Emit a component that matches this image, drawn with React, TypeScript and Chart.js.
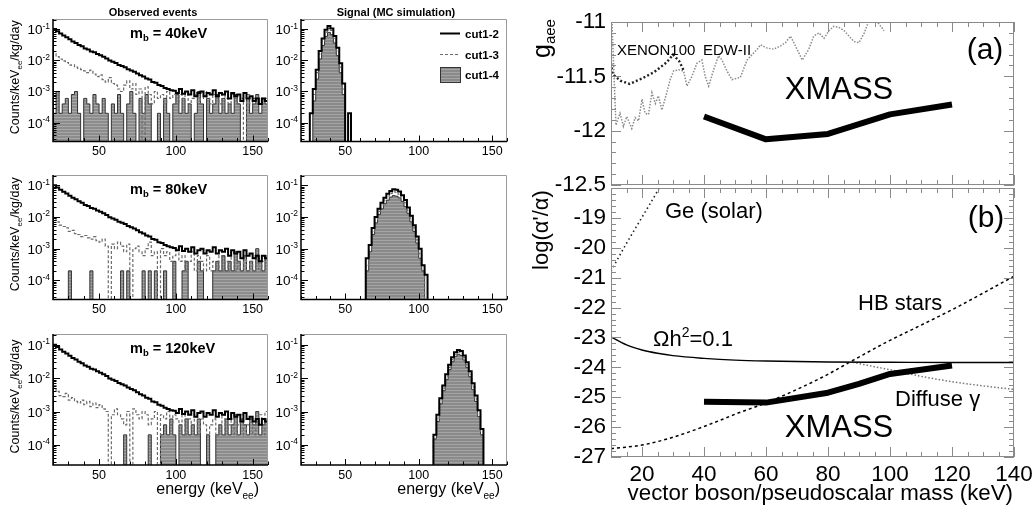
import React, { useEffect, useRef } from "react";
import { Chart, registerables } from "chart.js";

Chart.register(...registerables);

const FONT = "'Liberation Sans', Arial, Helvetica, sans-serif";

// ================= LEFT: histograms (2 keV bins from 20 keV) =================
const BIN_W = 2;
const OBS_START = 20;
const ENERGY_MIN = 20;
const ENERGY_MAX = 160;
const RATE_MIN = 2.5e-5;
const RATE_MAX = 0.21;
const decadeExps = [-1, -2, -3, -4];
const massLabels = ["40", "80", "120"];
const legendNames = ["cut1-2", "cut1-3", "cut1-4"];

// observed cut1-2 (same data for all masses)
const obsCut12 = [
  0.1, 0.085, 0.072, 0.062, 0.055, 0.047, 0.04, 0.036, 0.031, 0.028,
  0.024, 0.022, 0.019, 0.018, 0.016, 0.0145, 0.013, 0.0115, 0.0098, 0.009,
  0.0082, 0.0071, 0.0066, 0.006, 0.0052, 0.0047, 0.0043, 0.0038, 0.0033, 0.003,
  0.0026, 0.0024, 0.002, 0.0019, 0.0016, 0.0015, 0.0013, 0.0012, 0.0011, 0.00105,
  0.0009, 0.0012, 0.00085, 0.001, 0.0008, 0.0011, 0.0007, 0.0009, 0.001, 0.0007,
  0.0009, 0.0008, 0.0011, 0.0007, 0.0009, 0.0008, 0.001, 0.0006, 0.0009, 0.0007,
  0.0008, 0.0005, 0.0009, 0.0006, 0.0007, 0.0005, 0.0006, 0.0004, 0.0006, 0.0005,
];
const obs40Cut13 = [
  0.016, 0.013, 0.011, 0.0095, 0.0085, 0.007, 0.0072, 0.006, 0.0055, 0.005,
  0.0046, 0.004, 0.0048, 0.0036, 0.003, 0.0034, 0.0024, 0.002, 0.0028, 0.0018,
  0.0016, 0.0012, 0.001, 0.0016, 0.0022, 0.0012, 0.0018, 0.0008, 0.0012, 0,
  0.0014, 0.0008, 0.0004, 0.001, 0.0006, 0.0008, 0.0004, 0.001, 0.0006, 0.0008,
  0.0004, 0.0008, 0.0006, 0.001, 0.0004, 0.0006, 0.0008, 0.0004, 0.0006, 0.001,
  0.0006, 0.0004, 0.0008, 0.0006, 0.0004, 0.0008, 0.0006, 0.0004, 0.0008, 0.0006,
  0.0004, 0.0006, 0, 0.0008, 0.0004, 0.0006, 0.0004, 0.0006, 0.0004, 0.0006,
];
const obs40Cut14 = [
  2e-4, 1e-3, 2e-4, 4e-4, 6e-4, 2e-4, 8e-4, 1e-3, 2e-4, 0,
  6e-4, 4e-4, 2e-4, 8e-4, 4e-4, 2e-4, 6e-4, 2e-4, 0, 4e-4,
  2e-4, 8e-4, 2e-4, 0, 4e-4, 1e-3, 2e-4, 0, 6e-4, 2e-4,
  8e-4, 4e-4, 0, 0, 2e-4, 0, 6e-4, 2e-4, 0, 4e-4,
  8e-4, 2e-4, 6e-4, 2e-4, 4e-4, 0, 2e-4, 1e-3, 4e-4, 0,
  6e-4, 2e-4, 4e-4, 8e-4, 2e-4, 6e-4, 2e-4, 4e-4, 2e-4, 8e-4,
  4e-4, 0, 0, 6e-4, 2e-4, 4e-4, 8e-4, 2e-4, 6e-4, 4e-4,
];
const obs80Cut13 = [
  0.009, 0.007, 0.0055, 0.005, 0.0045, 0.0035, 0.0038, 0.003, 0.0028, 0.0024,
  0.0026, 0.0022, 0.002, 0.0024, 0.0018, 0.0016, 0.002, 0.0012, 0, 0.0014,
  0.001, 0.0016, 0.0012, 0.0008, 0.0014, 0, 0.001, 0.0012, 0.0008, 0.0006,
  0.001, 0.0016, 0.0006, 0.0008, 0, 0.001, 0.0006, 0.0008, 0.0004, 0.0006,
  0.001, 0.0004, 0.0006, 0.0002, 0.0004, 0.0008, 0.0002, 0.0006, 0.0004, 0.0002,
  0.0006, 0.0002, 0.0004, 0.0002, 0.0006, 0.0002, 0.0004, 0.0002, 0.0008, 0.0002,
  0.0004, 0.0002, 0.0006, 0.0002, 0.0004, 0.0002, 0.0006, 0.0002, 0.0004, 0.0006,
];
const obs80Cut14 = [
  0, 0, 0, 0, 0, 2e-4, 0, 0, 0, 0,
  0, 0, 2e-4, 0, 0, 0, 0, 0, 0, 0,
  0, 0, 2e-4, 0, 2e-4, 0, 0, 0, 0, 2e-4,
  0, 2e-4, 0, 2e-4, 0, 0, 2e-4, 0, 0, 4e-4,
  0, 0, 2e-4, 4e-4, 0, 0, 0, 4e-4, 2e-4, 0,
  0, 0, 2e-4, 4e-4, 2e-4, 6e-4, 2e-4, 4e-4, 2e-4, 8e-4,
  4e-4, 2e-4, 6e-4, 2e-4, 4e-4, 2e-4, 1e-3, 4e-4, 2e-4, 6e-4,
];
const obs120Cut13 = [
  0.006, 0.004, 0.003, 0.0028, 0.0035, 0.0022, 0.0026, 0.002, 0.0018, 0.0022,
  0.0016, 0.002, 0.0014, 0.0018, 0.0013, 0.0016, 0.0012, 0.001, 0, 0.0008,
  0.0012, 0.0008, 0.0006, 0.0004, 0.001, 0, 0.0012, 0.0008, 0.0006, 0.001,
  0.0008, 0.0004, 0.0006, 0.001, 0, 0.0008, 0.0006, 0.001, 0.0004, 0.0008,
  0.0006, 0.0004, 0.0008, 0.0002, 0.0006, 0.0004, 0.0008, 0.0002, 0.0006, 0.0004,
  0.0002, 0.0004, 0.0006, 0.0002, 0.0004, 0.0008, 0.0002, 0.0004, 0.0006, 0.0002,
  0.0004, 0.0008, 0.0002, 0.0004, 0.0006, 0.0002, 0.0004, 0.0008, 0.0002, 0.001,
];
const obs120Cut14 = [
  0, 0, 0, 0, 0, 0, 0, 0, 0, 0,
  0, 0, 0, 0, 0, 0, 0, 0, 0, 0,
  0, 0, 0, 2e-4, 0, 0, 0, 0, 0, 0,
  0, 2e-4, 0, 0, 0, 2e-4, 4e-4, 2e-4, 6e-4, 2e-4,
  0, 4e-4, 2e-4, 6e-4, 2e-4, 4e-4, 2e-4, 6e-4, 0, 0,
  2e-4, 0, 0, 2e-4, 4e-4, 2e-4, 6e-4, 2e-4, 4e-4, 8e-4,
  2e-4, 6e-4, 4e-4, 2e-4, 6e-4, 4e-4, 1e-3, 2e-4, 4e-4, 6e-4,
];

// signal (MC) histograms
const sig40Start = 26;
const sig40Cut12 = [2e-4, 1.2e-3, 5e-3, 0.02, 0.05, 0.095, 0.125, 0.105, 0.06, 0.025, 0.008, 1.8e-3, 0, 2e-4];
const sig40Cut13 = [0, 8e-4, 4e-3, 0.016, 0.042, 0.08, 0.105, 0.09, 0.05, 0.02, 0.006, 1.2e-3, 0, 0];
const sig40Cut14 = [0, 5e-4, 2.5e-3, 0.011, 0.03, 0.058, 0.078, 0.066, 0.036, 0.014, 4e-3, 8e-4, 0, 0];
const sig80Start = 62;
const sig80Cut12 = [0, 5e-4, 1.3e-3, 4.5e-3, 0.01, 0.018, 0.028, 0.04, 0.054, 0.066, 0.075, 0.072, 0.063, 0.048, 0.034, 0.02, 0.011, 5.5e-3, 2.4e-3, 1e-3, 3e-4, 1.5e-4];
const sig80Cut13 = [0, 3e-4, 1e-3, 3.5e-3, 8e-3, 0.015, 0.023, 0.034, 0.045, 0.055, 0.062, 0.06, 0.052, 0.04, 0.028, 0.016, 9e-3, 4.5e-3, 1.9e-3, 7e-4, 2e-4, 0];
const sig80Cut14 = [0, 2e-4, 8e-4, 2.8e-3, 6.5e-3, 0.012, 0.018, 0.026, 0.034, 0.042, 0.047, 0.045, 0.04, 0.031, 0.021, 0.013, 7e-3, 3.5e-3, 1.5e-3, 5e-4, 2e-4, 0];
const sig120Start = 108;
const sig120Cut12 = [0, 2e-4, 8e-4, 2.5e-3, 6e-3, 0.013, 0.025, 0.042, 0.06, 0.07, 0.065, 0.048, 0.03, 0.016, 7e-3, 3e-3, 1.1e-3, 3e-4, 0];
const sig120Cut13 = [0, 1.5e-4, 6e-4, 2e-3, 5e-3, 0.011, 0.021, 0.036, 0.052, 0.06, 0.056, 0.041, 0.025, 0.013, 5.5e-3, 2.4e-3, 8e-4, 2e-4, 0];
const sig120Cut14 = [0, 1.5e-4, 5e-4, 1.7e-3, 4.2e-3, 9e-3, 0.018, 0.031, 0.045, 0.052, 0.048, 0.035, 0.021, 0.011, 4.5e-3, 2e-3, 7e-4, 2e-4, 0];

// ================= RIGHT: limits =================
const MASS_MIN = 10;
const MASS_MAX = 140;
const GAEE_MIN = -12.5;
const GAEE_MAX = -11;
const LOGA_MIN = -27;
const LOGA_MAX = -18;

const xmassAX = [40, 60, 80, 100, 120];
const xmassAY = [-11.87, -12.08, -12.03, -11.85, -11.76];
const xenonX = [10, 10.5, 13, 16, 20, 24, 28, 30, 32, 33.5];
const xenonY = [-11.38, -11.48, -11.54, -11.57, -11.52, -11.46, -11.37, -11.3, -11.36, -11.45];
const edwX = [
  10.3, 11.6, 12.9, 14.0, 15.1, 16.7, 17.8, 18.9, 20.0, 21.0, 22.1, 23.2, 24.3, 25.3, 26.4,
  28.0, 29.1, 30.2, 31.8, 33.4, 34.5, 36.1, 37.7, 39.3, 40.4, 41.5, 43.1, 44.7, 45.8, 47.4,
  49.0, 51.7, 53.9, 55.5, 57.2, 58.2, 60.4, 62.5, 64.7, 66.3, 67.9, 69.5, 71.7, 73.8, 75.4,
  77.1, 78.7, 80.3, 81.9, 83.5, 85.2, 86.8, 88.4, 90.0, 91.7, 93.3, 94.9, 96.5, 98.1,
];
const edwY = [
  -10.99, -11.95, -11.84, -11.96, -11.87, -11.98, -11.88, -11.91, -11.71, -11.84, -11.85, -11.65, -11.75, -11.68, -11.81,
  -11.65, -11.53, -11.45, -11.44, -11.45, -11.59, -11.5, -11.38, -11.35, -11.5, -11.59, -11.44, -11.31, -11.35, -11.45,
  -11.53, -11.51, -11.35, -11.3, -11.25, -11.21, -11.24, -11.25, -11.22, -11.19, -11.13, -11.22, -11.35, -11.25, -11.13,
  -11.1, -11.15, -11.08, -11.04, -11.05, -11.08, -11.13, -11.18, -11.19, -11.1, -10.98, -10.96, -11.02, -11.08,
];

const geX = [10, 15, 20, 25, 27];
const geY = [-20.78, -19.85, -18.98, -18.1, -17.7];
const omegaX = [10, 15, 20, 25, 30, 40, 50, 60, 80, 100, 120, 140];
const omegaY = [-22.98, -23.25, -23.42, -23.53, -23.61, -23.7, -23.76, -23.79, -23.82, -23.83, -23.84, -23.84];
const diffuseX = [88, 95, 100, 110, 120, 130, 140];
const diffuseY = [-23.83, -23.98, -24.08, -24.3, -24.48, -24.62, -24.74];
const hbX = [10, 20, 29, 40, 51, 60, 78, 88, 99, 110, 121, 140];
const hbY = [-26.72, -26.6, -26.37, -25.98, -25.53, -25.19, -24.34, -23.77, -23.15, -22.59, -22.02, -20.95];
const xmassBX = [40, 60, 80, 90, 100, 120];
const xmassBY = [-25.15, -25.18, -24.85, -24.55, -24.22, -23.94];

// ================= helpers =================
type Pt = { x: number; y: number };
type Rect = { x: number; y: number; w: number; h: number };
type Area = { l: number; t: number; r: number; b: number };
type Run = { t: string; size: number; dy?: number; bold?: boolean };

const FLOOR = 1e-7;

function zip(xs: number[], ys: number[]): Pt[] {
  return xs.map((x, i) => ({ x, y: ys[i] }));
}

function stepPoints(start: number, vals: number[]): Pt[] {
  const pts: Pt[] = [{ x: start, y: FLOOR }];
  vals.forEach((v, i) => pts.push({ x: start + i * BIN_W, y: v > 0 ? v : FLOOR }));
  const end = start + vals.length * BIN_W;
  const last = vals[vals.length - 1];
  pts.push({ x: end, y: last > 0 ? last : FLOOR });
  pts.push({ x: end, y: FLOOR });
  return pts;
}

function drawRuns(ctx: CanvasRenderingContext2D, runs: Run[], x: number, y: number, align: string, rotate = false) {
  ctx.save();
  ctx.translate(x, y);
  if (rotate) ctx.rotate(-Math.PI / 2);
  ctx.fillStyle = "#000";
  ctx.textBaseline = "alphabetic";
  ctx.textAlign = "left";
  const fonts = runs.map((r) => `${r.bold ? "bold " : ""}${r.size}px ${FONT}`);
  let total = 0;
  const widths = runs.map((r, i) => {
    ctx.font = fonts[i];
    const w = ctx.measureText(r.t).width;
    total += w;
    return w;
  });
  let cx = align === "left" ? 0 : align === "center" ? -total / 2 : -total;
  runs.forEach((r, i) => {
    ctx.font = fonts[i];
    ctx.fillText(r.t, cx, r.dy || 0);
    cx += widths[i];
  });
  ctx.restore();
}

function greyPattern(base: string, stripe: string): any {
  const c = document.createElement("canvas");
  c.width = 4;
  c.height = 3;
  const g = c.getContext("2d");
  if (!g) return base;
  g.fillStyle = base;
  g.fillRect(0, 0, 4, 3);
  g.fillStyle = stripe;
  g.fillRect(0, 0, 4, 1);
  return g.createPattern(c, "repeat") || base;
}

function linVals(min: number, max: number, step: number): number[] {
  const out: number[] = [];
  const n0 = Math.ceil(min / step - 1e-6);
  const n1 = Math.floor(max / step + 1e-6);
  for (let n = n0; n <= n1; n++) out.push(Math.round(n * step * 1000) / 1000);
  return out;
}

function isMult(v: number, m: number) {
  return Math.abs(v / m - Math.round(v / m)) < 1e-6;
}

function baseOptions(rect: Rect, area: Area, xOpts: any, yOpts: any) {
  return {
    responsive: false,
    animation: false,
    events: [],
    devicePixelRatio: 1,
    layout: { padding: { left: 0, right: rect.x + rect.w - area.r, top: area.t - rect.y, bottom: 0 } },
    plugins: { legend: { display: false }, tooltip: { enabled: false }, title: { display: false } },
    scales: {
      x: {
        type: "linear",
        position: "bottom",
        ...xOpts,
        grid: { display: false, drawTicks: false },
        border: { display: false },
        afterFit: (s: any) => {
          s.height = rect.y + rect.h - area.b;
          s.paddingLeft = 0;
          s.paddingRight = 0;
        },
      },
      y: {
        position: "left",
        ...yOpts,
        grid: { display: false, drawTicks: false },
        border: { display: false },
        afterFit: (s: any) => {
          s.width = area.l - rect.x;
          s.paddingTop = 0;
          s.paddingBottom = 0;
        },
      },
    },
  };
}

// ================= histogram panel =================
type Series = { start: number; vals: number[] };

function histConfig(rect: Rect, area: Area, s12: Series, s13: Series, s14: Series, extra: (ctx: CanvasRenderingContext2D) => void, pattern: any) {
  const opts: any = baseOptions(
    rect,
    area,
    {
      min: ENERGY_MIN,
      max: ENERGY_MAX,
      ticks: {
        stepSize: 10,
        autoSkip: false,
        maxRotation: 0,
        padding: 3,
        color: "#000",
        font: { family: FONT, size: 12.5 },
        callback: (v: any) => (isMult(Number(v), 50) ? String(v) : ""),
      },
    },
    { type: "logarithmic", min: RATE_MIN, max: RATE_MAX, ticks: { display: false } }
  );
  return {
    type: "line",
    data: {
      datasets: [
        { data: stepPoints(s12.start, s12.vals), stepped: true, borderColor: "#000", borderWidth: 2, pointRadius: 0, fill: false, borderJoinStyle: "miter" },
        { data: stepPoints(s13.start, s13.vals), stepped: true, borderColor: "#6a6a6a", borderWidth: 1.2, borderDash: [3, 2], pointRadius: 0, fill: false },
        { data: stepPoints(s14.start, s14.vals), stepped: true, borderColor: "#333", borderWidth: 1, backgroundColor: pattern, pointRadius: 0, fill: "start" },
      ],
    },
    options: opts,
    plugins: [
      {
        id: "histDecor",
        afterDraw: (chart: any) => {
          const ctx: CanvasRenderingContext2D = chart.ctx;
          const ca = chart.chartArea;
          const xs = chart.scales.x;
          const ys = chart.scales.y;
          ctx.save();
          // frame
          ctx.strokeStyle = "#9a9a9a";
          ctx.lineWidth = 1;
          ctx.beginPath();
          ctx.moveTo(ca.left, ca.top + 0.5);
          ctx.lineTo(ca.right - 0.5, ca.top + 0.5);
          ctx.lineTo(ca.right - 0.5, ca.bottom);
          ctx.stroke();
          ctx.strokeStyle = "#000";
          ctx.lineWidth = 1.5;
          ctx.beginPath();
          ctx.moveTo(ca.left, ca.top);
          ctx.lineTo(ca.left, ca.bottom);
          ctx.lineTo(ca.right, ca.bottom);
          ctx.stroke();
          // x ticks
          ctx.lineWidth = 1;
          ctx.beginPath();
          linVals(ENERGY_MIN, ENERGY_MAX, 10).forEach((v) => {
            const px = Math.round(xs.getPixelForValue(v)) + 0.5;
            const len = isMult(v, 50) ? 6 : 3.5;
            ctx.moveTo(px, ca.bottom);
            ctx.lineTo(px, ca.bottom - len);
          });
          // y log ticks
          for (let e = -5; e <= 0; e++) {
            for (let k = 1; k <= 9; k++) {
              const v = k * Math.pow(10, e);
              if (v < RATE_MIN || v > RATE_MAX) continue;
              const py = Math.round(ys.getPixelForValue(v)) + 0.5;
              const len = k === 1 ? 7 : 3.5;
              ctx.moveTo(ca.left, py);
              ctx.lineTo(ca.left + len, py);
            }
          }
          ctx.stroke();
          // y labels 10^-n
          decadeExps.forEach((e) => {
            const py = ys.getPixelForValue(Math.pow(10, e));
            drawRuns(ctx, [{ t: "10", size: 13.5 }, { t: `-${-e}`, size: 8.5, dy: -5.5 }], ca.left - 3, py + 5, "right");
          });
          ctx.translate(-rect.x, -rect.y);
          extra(ctx);
          ctx.restore();
        },
      },
    ],
  };
}

// ================= limit panels =================
function limitDecor(rect: Rect, yStep: number, yMajor: number, extra: (ctx: CanvasRenderingContext2D) => void) {
  return {
    id: "limitDecor",
    afterDraw: (chart: any) => {
      const ctx: CanvasRenderingContext2D = chart.ctx;
      const ca = chart.chartArea;
      const xs = chart.scales.x;
      const ys = chart.scales.y;
      ctx.save();
      ctx.strokeStyle = "#8a8a8a";
      ctx.lineWidth = 1;
      ctx.strokeRect(ca.left + 0.5, ca.top + 0.5, ca.right - ca.left - 1, ca.bottom - ca.top - 1);
      ctx.beginPath();
      linVals(MASS_MIN, MASS_MAX, 5).forEach((v) => {
        const px = Math.round(xs.getPixelForValue(v)) + 0.5;
        const len = isMult(v, 20) ? 10 : 5;
        ctx.moveTo(px, ca.bottom);
        ctx.lineTo(px, ca.bottom - len);
        ctx.moveTo(px, ca.top);
        ctx.lineTo(px, ca.top + len);
      });
      linVals(ys.min, ys.max, yStep).forEach((v) => {
        const py = Math.round(ys.getPixelForValue(v)) + 0.5;
        const len = isMult(v, yMajor) ? 10 : 5;
        ctx.moveTo(ca.left, py);
        ctx.lineTo(ca.left + len, py);
        ctx.moveTo(ca.right, py);
        ctx.lineTo(ca.right - len, py);
      });
      ctx.stroke();
      ctx.translate(-rect.x, -rect.y);
      extra(ctx);
      ctx.restore();
    },
  };
}

const tickFontR = { family: FONT, size: 22.5 };

function configA(rect: Rect, area: Area) {
  const opts: any = baseOptions(
    rect,
    area,
    { min: MASS_MIN, max: MASS_MAX, ticks: { display: false, stepSize: 5 } },
    {
      type: "linear",
      min: GAEE_MIN,
      max: GAEE_MAX,
      ticks: {
        stepSize: 0.1,
        autoSkip: false,
        padding: 5,
        color: "#000",
        font: tickFontR,
        callback: (v: any) => {
          const r = Math.round(Number(v) * 10) / 10;
          return isMult(r, 0.5) ? String(r) : "";
        },
      },
    }
  );
  return {
    type: "line",
    data: {
      datasets: [
        { data: zip(xmassAX, xmassAY), borderColor: "#000", borderWidth: 6, pointRadius: 0, borderJoinStyle: "round", fill: false },
        { data: zip(xenonX, xenonY), borderColor: "#222", borderWidth: 2.4, borderDash: [2, 2.2], pointRadius: 0, fill: false },
        { data: zip(edwX, edwY), borderColor: "#8a8a8a", borderWidth: 1.5, borderDash: [1.5, 1.5], pointRadius: 0, fill: false },
      ],
    },
    options: opts,
    plugins: [
      limitDecor(rect, 0.1, 0.5, (ctx) => {
        drawRuns(ctx, [{ t: "g", size: 25 }, { t: "aee", size: 15, dy: 5 }], 550, 58, "left", true);
        drawRuns(ctx, [{ t: "XENON100", size: 15 }], 617, 54.5, "left");
        drawRuns(ctx, [{ t: "EDW-II", size: 15 }], 703, 54.5, "left");
        drawRuns(ctx, [{ t: "XMASS", size: 31 }], 839, 99, "center");
        drawRuns(ctx, [{ t: "(a)", size: 30 }], 985, 59, "center");
      }),
    ],
  };
}

function configB(rect: Rect, area: Area) {
  const opts: any = baseOptions(
    rect,
    area,
    {
      min: MASS_MIN,
      max: MASS_MAX,
      ticks: {
        stepSize: 5,
        autoSkip: false,
        maxRotation: 0,
        padding: 4,
        color: "#000",
        font: tickFontR,
        callback: (v: any) => (isMult(Number(v), 20) ? String(v) : ""),
      },
    },
    {
      type: "linear",
      min: LOGA_MIN,
      max: LOGA_MAX,
      ticks: {
        stepSize: 0.2,
        autoSkip: false,
        padding: 5,
        color: "#000",
        font: tickFontR,
        callback: (v: any) => {
          const r = Math.round(Number(v) * 10) / 10;
          return isMult(r, 1) && r < LOGA_MAX ? String(r) : "";
        },
      },
    }
  );
  return {
    type: "line",
    data: {
      datasets: [
        { data: zip(xmassBX, xmassBY), borderColor: "#000", borderWidth: 6, pointRadius: 0, borderJoinStyle: "round", fill: false },
        { data: zip(omegaX, omegaY), borderColor: "#000", borderWidth: 1.4, pointRadius: 0, cubicInterpolationMode: "monotone", fill: false },
        { data: zip(hbX, hbY), borderColor: "#000", borderWidth: 1.5, borderDash: [3, 3], pointRadius: 0, cubicInterpolationMode: "monotone", fill: false },
        { data: zip(diffuseX, diffuseY), borderColor: "#777", borderWidth: 1.5, borderDash: [1.5, 2], pointRadius: 0, cubicInterpolationMode: "monotone", fill: false },
        { data: zip(geX, geY), borderColor: "#222", borderWidth: 1.6, borderDash: [1.5, 3], pointRadius: 0, cubicInterpolationMode: "monotone", fill: false },
      ],
    },
    options: opts,
    plugins: [
      limitDecor(rect, 0.2, 1, (ctx) => {
        drawRuns(ctx, [{ t: "log(\u03b1'/\u03b1)", size: 22 }], 548, 230, "center", true);
        drawRuns(ctx, [{ t: "Ge (solar)", size: 22 }], 665, 218, "left");
        drawRuns(ctx, [{ t: "(b)", size: 30 }], 986, 227, "center");
        drawRuns(ctx, [{ t: "HB stars", size: 22 }], 858, 310, "left");
        drawRuns(ctx, [{ t: "\u03a9h", size: 22 }, { t: "2", size: 14, dy: -9 }, { t: "=0.1", size: 22 }], 653, 346, "left");
        drawRuns(ctx, [{ t: "Diffuse \u03b3", size: 22 }], 895, 406, "left");
        drawRuns(ctx, [{ t: "XMASS", size: 31 }], 839, 437, "center");
        drawRuns(ctx, [{ t: "vector boson/pseudoscalar mass (keV)", size: 22.3 }], 1013, 500, "right");
      }),
    ],
  };
}

// ================= layout =================
const ROWS = [
  { t: 19, b: 141.5 },
  { t: 175, b: 299.5 },
  { t: 334, b: 465 },
];
const OBS_L = 53;
const OBS_R = 268;
const SIG_L = 301;
const SIG_R = 507;

function ChartCanvas({ rect, make }: { rect: Rect; make: () => any }) {
  const ref = useRef<HTMLCanvasElement>(null);
  useEffect(() => {
    if (!ref.current) return;
    const chart = new Chart(ref.current, make());
    return () => chart.destroy();
  }, []);
  return (
    <canvas
      ref={ref}
      width={rect.w}
      height={rect.h}
      style={{ position: "absolute", left: rect.x, top: rect.y, width: rect.w, height: rect.h }}
    />
  );
}

const obsCut13s = [obs40Cut13, obs80Cut13, obs120Cut13];
const obsCut14s = [obs40Cut14, obs80Cut14, obs120Cut14];
const sigStarts = [sig40Start, sig80Start, sig120Start];
const sigCut12s = [sig40Cut12, sig80Cut12, sig120Cut12];
const sigCut13s = [sig40Cut13, sig80Cut13, sig120Cut13];
const sigCut14s = [sig40Cut14, sig80Cut14, sig120Cut14];

function energyTitle(ctx: CanvasRenderingContext2D, right: number) {
  drawRuns(ctx, [{ t: "energy (keV", size: 16 }, { t: "ee", size: 10, dy: 5 }, { t: ")", size: 16 }], right, 494, "right");
}

export default function App() {
  const panels: { rect: Rect; make: () => any }[] = [];
  ROWS.forEach((row, r) => {
    const obsRect: Rect = { x: 0, y: row.t - 19, w: 280, h: Math.round(row.b - row.t) + 19 + 41 };
    const obsArea: Area = { l: OBS_L, t: row.t, r: OBS_R, b: row.b };
    panels.push({
      rect: obsRect,
      make: () =>
        histConfig(
          obsRect,
          obsArea,
          { start: OBS_START, vals: obsCut12 },
          { start: OBS_START, vals: obsCut13s[r] },
          { start: OBS_START, vals: obsCut14s[r] },
          (ctx) => {
            if (r === 0) drawRuns(ctx, [{ t: "Observed events", size: 11, bold: true }], 153, 16, "center");
            drawRuns(
              ctx,
              [{ t: "m", size: 14.5, bold: true }, { t: "b", size: 9.5, bold: true, dy: 3 }, { t: ` = ${massLabels[r]}keV`, size: 14.5, bold: true }],
              130,
              row.t + 19,
              "left"
            );
            drawRuns(
              ctx,
              [{ t: "Counts/keV", size: 12.5 }, { t: "ee", size: 8, dy: 3 }, { t: "/kg/day", size: 12.5 }],
              18.5,
              (row.t + row.b) / 2 - 3,
              "center",
              true
            );
            if (r === 2) energyTitle(ctx, 259);
          },
          greyPattern("#8c8c8c", "#a8a8a8")
        ),
    });
    const sigRect: Rect = { x: 272, y: row.t - 19, w: 252, h: Math.round(row.b - row.t) + 19 + 41 };
    const sigArea: Area = { l: SIG_L, t: row.t, r: SIG_R, b: row.b };
    panels.push({
      rect: sigRect,
      make: () => {
        const pat = greyPattern("#8a8a8a", "#a4a4a4");
        return histConfig(
          sigRect,
          sigArea,
          { start: sigStarts[r], vals: sigCut12s[r] },
          { start: sigStarts[r], vals: sigCut13s[r] },
          { start: sigStarts[r], vals: sigCut14s[r] },
          (ctx) => {
            if (r === 0) {
              drawRuns(ctx, [{ t: "Signal (MC simulation)", size: 11, bold: true }], 396, 16, "center");
              ctx.save();
              ctx.strokeStyle = "#000";
              ctx.lineWidth = 2;
              ctx.beginPath();
              ctx.moveTo(440, 33.5);
              ctx.lineTo(460, 33.5);
              ctx.stroke();
              ctx.strokeStyle = "#6a6a6a";
              ctx.lineWidth = 1.2;
              ctx.setLineDash([3, 2]);
              ctx.beginPath();
              ctx.moveTo(440, 54.5);
              ctx.lineTo(460, 54.5);
              ctx.stroke();
              ctx.setLineDash([]);
              ctx.fillStyle = pat;
              ctx.fillRect(440, 67, 20, 15);
              ctx.strokeStyle = "#333";
              ctx.lineWidth = 1;
              ctx.strokeRect(440.5, 67.5, 20, 15);
              ctx.restore();
              drawRuns(ctx, [{ t: legendNames[0], size: 11.5, bold: true }], 465, 37.5, "left");
              drawRuns(ctx, [{ t: legendNames[1], size: 11.5, bold: true }], 465, 58.5, "left");
              drawRuns(ctx, [{ t: legendNames[2], size: 11.5, bold: true }], 465, 79, "left");
            }
            if (r === 2) energyTitle(ctx, 500);
          },
          pat
        );
      },
    });
  });

  const rectA: Rect = { x: 520, y: 0, w: 513, h: 200 };
  const areaA: Area = { l: 611, t: 22, r: 1014, b: 185 };
  const rectB: Rect = { x: 520, y: 180, w: 513, h: 326 };
  const areaB: Area = { l: 611, t: 188, r: 1014, b: 457 };

  return (
    <div style={{ position: "absolute", left: 0, top: 0, width: 1033, height: 506, background: "#fff", overflow: "hidden" }}>
      {panels.map((p, i) => (
        <ChartCanvas key={i} rect={p.rect} make={p.make} />
      ))}
      <ChartCanvas rect={rectA} make={() => configA(rectA, areaA)} />
      <ChartCanvas rect={rectB} make={() => configB(rectB, areaB)} />
    </div>
  );
}
